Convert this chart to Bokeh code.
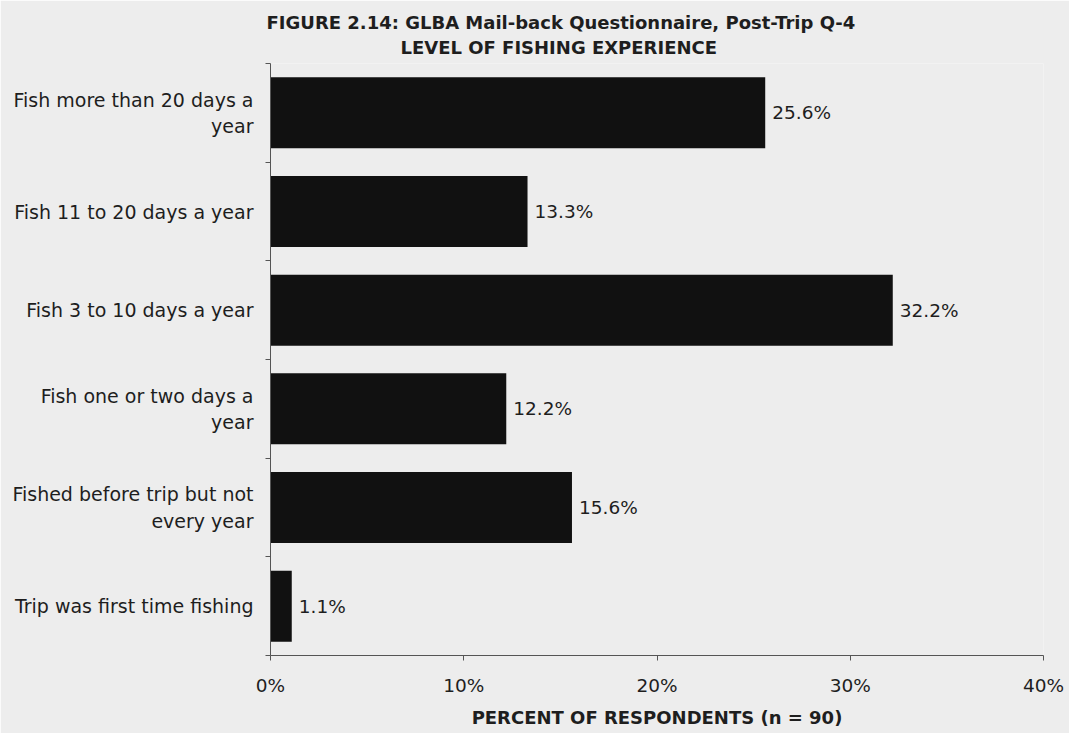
from bokeh.plotting import figure
from bokeh.models import FixedTicker, PrintfTickFormatter, Title, ColumnDataSource, Range1d
from bokeh.embed import file_html
from bokeh.resources import INLINE
from bokeh.core.properties import value

# ---- data ----
categories = [
    "Fish more than 20 days a year",
    "Fish 11 to 20 days a year",
    "Fish 3 to 10 days a year",
    "Fish one or two days a year",
    "Fished before trip but not every year",
    "Trip was first time fishing",
]
category_tick_labels = [
    "Fish more than 20 days a\nyear",
    "Fish 11 to 20 days a year",
    "Fish 3 to 10 days a year",
    "Fish one or two days a\nyear",
    "Fished before trip but not\nevery year",
    "Trip was first time fishing",
]
percents = [25.6, 13.3, 32.2, 12.2, 15.6, 1.1]
x_ticks = [0, 10, 20, 30, 40]
title_line1 = "FIGURE 2.14:  GLBA Mail-back Questionnaire, Post-Trip Q-4"
title_line2 = "LEVEL OF FISHING EXPERIENCE"
x_axis_title = "PERCENT OF RESPONDENTS (n = 90)"

FONT = "DejaVu Sans"
BG = "#ededed"
TXT = "#1e1e1e"

n = len(categories)
ypos = [2 * (n - i) - 1 for i in range(n)]
value_labels = [f"{v:.1f}%" for v in percents]

source = ColumnDataSource(dict(y=ypos, x=percents, cat=categories, lbl=value_labels))

p = figure(
    width=1069, height=733,
    x_range=Range1d(0, 40), y_range=Range1d(0, 2 * n),
    output_backend="svg", toolbar_location=None,
    min_border_left=270, min_border_right=26,
    min_border_top=63, min_border_bottom=78,
    background_fill_color=BG, border_fill_color=BG,
)
p.outline_line_color = None
p.xgrid.visible = False
p.ygrid.visible = False

p.hbar(y="y", right="x", left=0, height=1.44, source=source,
       fill_color="#111111", line_color=None)

p.text(x="x", y="y", text="lbl", source=source, x_offset=7,
       text_baseline="middle", text_align="left",
       text_font=value(FONT), text_font_size="18.5px", text_color=TXT)

# y axis: labels at centres, separator ticks at boundaries
ya = p.yaxis[0]
ya.ticker = FixedTicker(ticks=ypos, minor_ticks=list(range(0, 2 * n + 1, 2)))
ya.major_label_overrides = {y: lbl for y, lbl in zip(ypos, category_tick_labels)}
ya.major_tick_out = 0
ya.major_tick_in = 0
ya.minor_tick_out = 5
ya.minor_tick_in = 0
ya.minor_tick_line_color = "#555555"
ya.axis_line_color = "#555555"
ya.major_label_standoff = 12
ya.major_label_text_font = FONT
ya.major_label_text_font_size = "19px"
ya.major_label_text_color = TXT

xa = p.xaxis[0]
xa.ticker = FixedTicker(ticks=x_ticks, minor_ticks=[])
xa.formatter = PrintfTickFormatter(format="%d%%")
xa.major_tick_out = 5
xa.major_tick_in = 0
xa.major_tick_line_color = "#555555"
xa.axis_line_color = "#555555"
xa.major_label_standoff = 14
xa.major_label_text_font = FONT
xa.major_label_text_font_size = "18.5px"
xa.major_label_text_color = TXT
xa.axis_label = x_axis_title
xa.axis_label_text_font = FONT
xa.axis_label_text_font_style = "bold"
xa.axis_label_text_font_size = "18px"
xa.axis_label_text_color = TXT
xa.axis_label_standoff = 8

t2 = Title(text=title_line2, align="left", offset=130, text_font=FONT,
           text_font_size="18px", text_font_style="bold", text_color=TXT,
           standoff=8, vertical_align="top", text_line_height=1.45)
t1 = Title(text=title_line1, align="left", offset=-4, text_font=FONT,
           text_font_size="18px", text_font_style="bold", text_color=TXT,
           standoff=0, vertical_align="bottom")
p.add_layout(t2, "above")
p.add_layout(t1, "above")

open("out.html", "w").write(file_html(p, INLINE))
